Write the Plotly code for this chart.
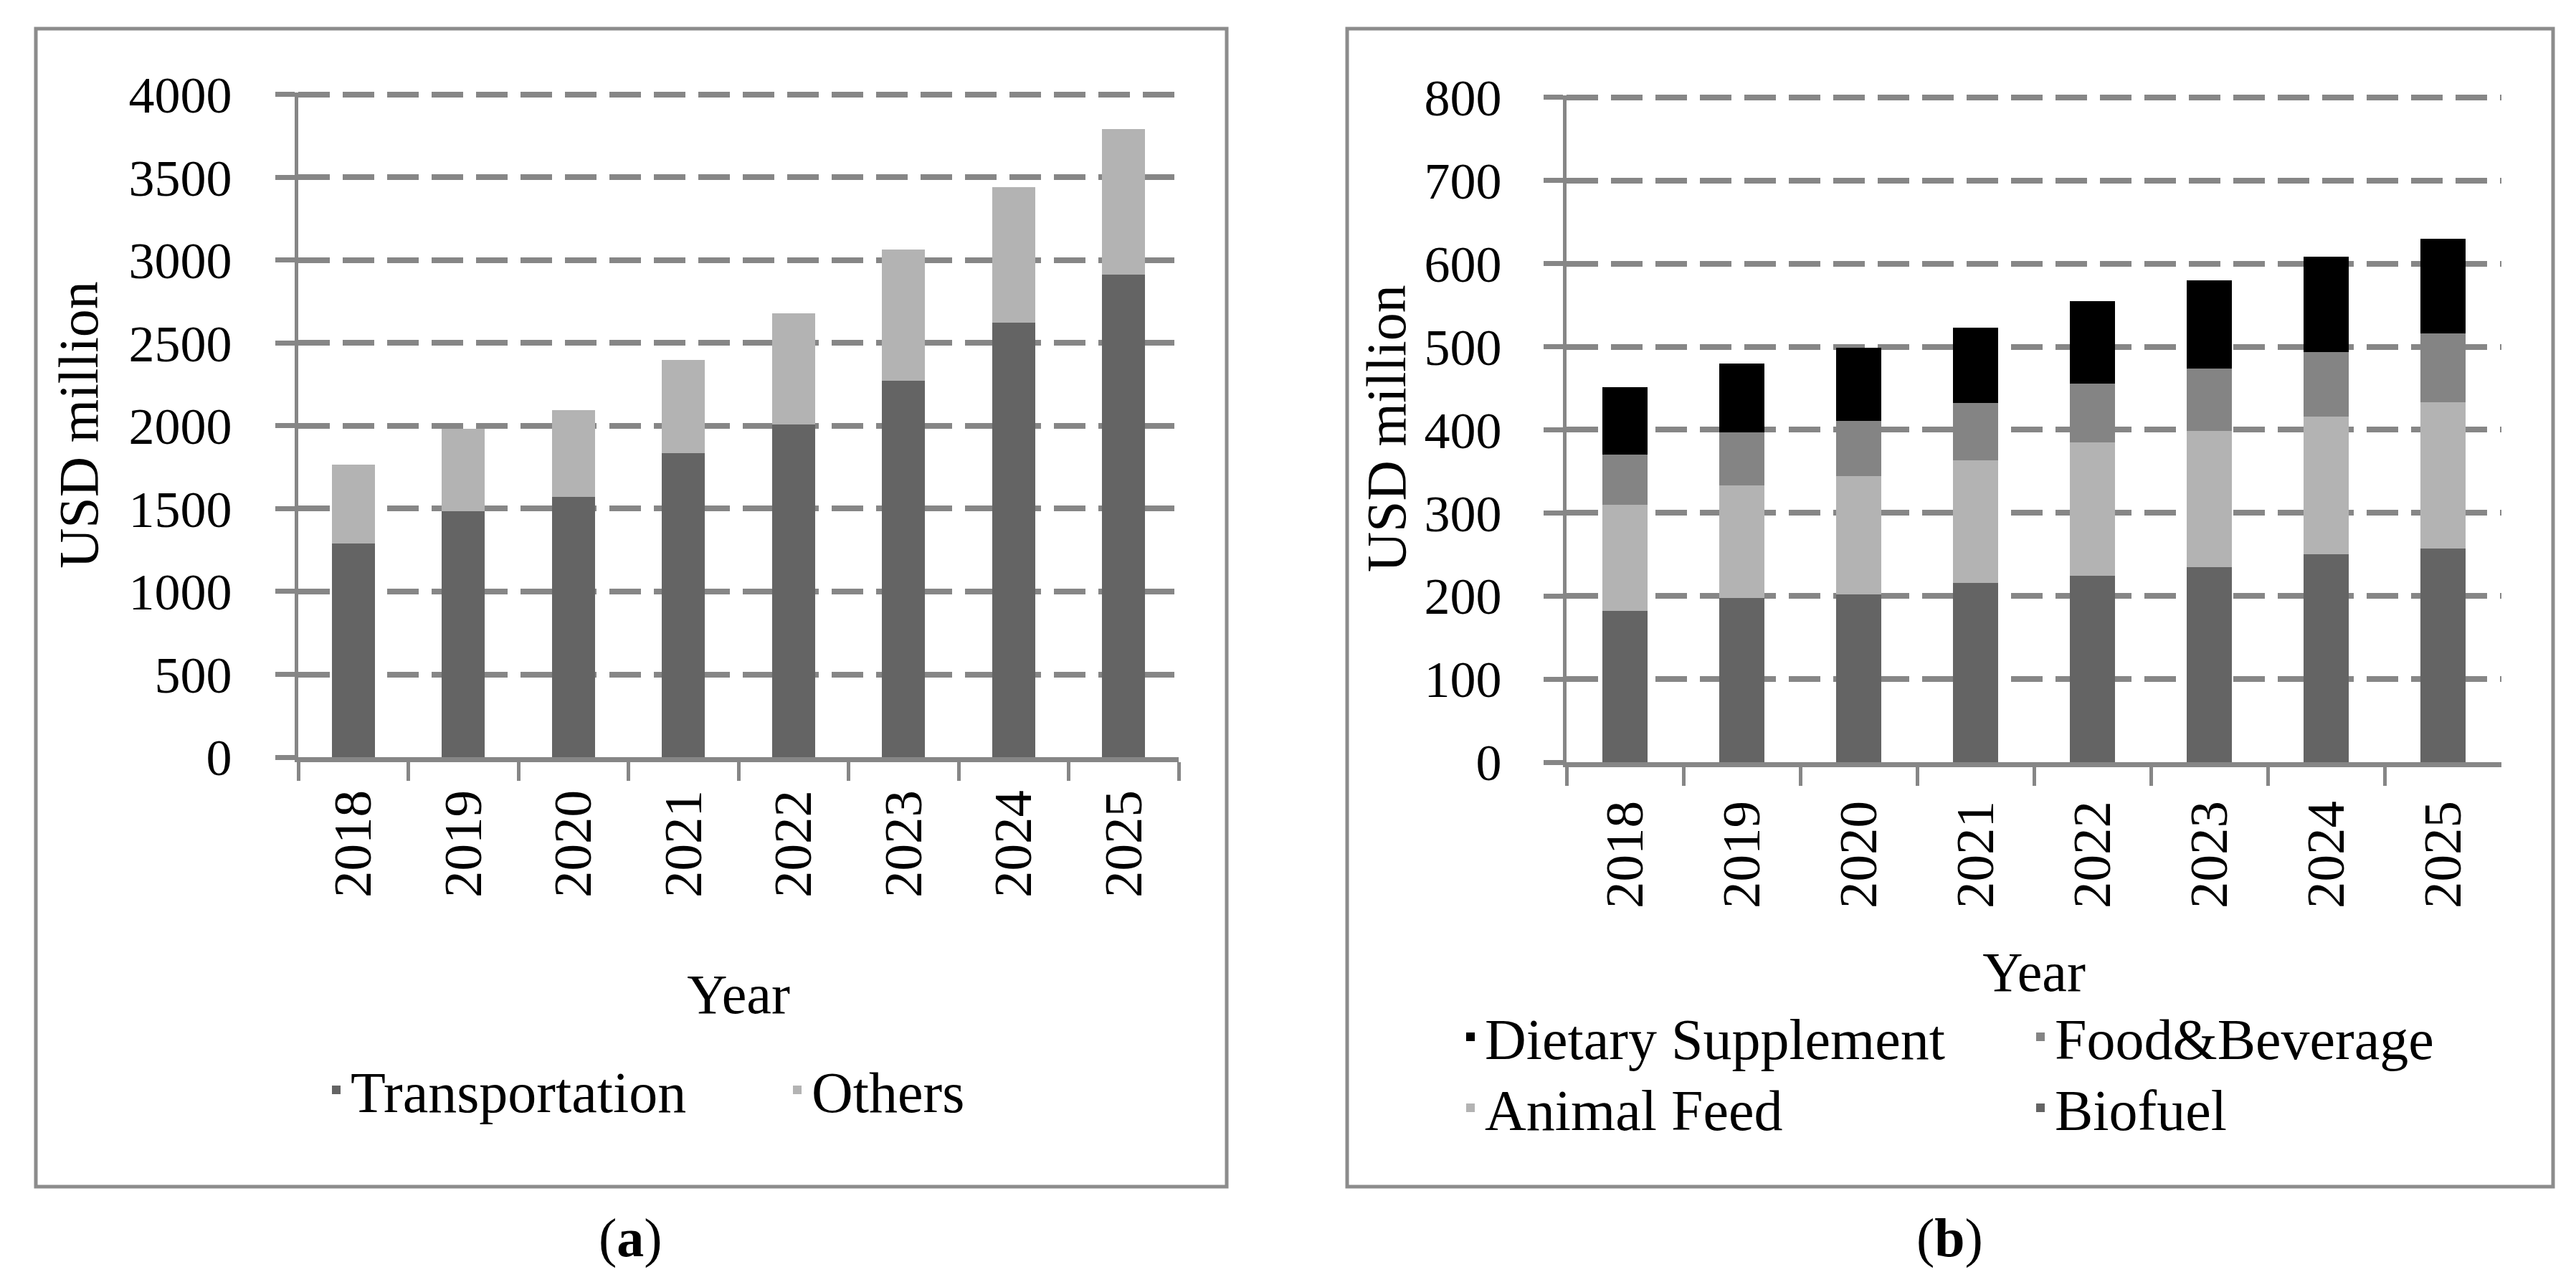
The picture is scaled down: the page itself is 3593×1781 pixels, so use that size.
import plotly.graph_objects as go

years = ["2018", "2019", "2020", "2021", "2022", "2023", "2024", "2025"]

# Panel (a)
transportation = [1292, 1483, 1571, 1836, 2009, 2274, 2623, 2912]
others = [474, 499, 526, 562, 669, 790, 818, 881]

# Panel (b)
biofuel = [182, 198, 202, 216, 224, 235, 250, 257]
animal_feed = [128, 135, 142, 147, 161, 164, 166, 176]
food_beverage = [60, 64, 67, 69, 71, 75, 78, 83]
dietary_supplement = [81, 83, 88, 91, 99, 106, 114, 114]

W, H = 3593, 1781
FONT = "Liberation Serif"
GRID = "#868686"
C_DARK = "#646464"
C_LIGHT = "#b3b3b3"
C_MID = "#848484"
C_BLACK = "#000000"


def px(v):
    return v / W


def py(v):
    return 1 - v / H


fig = go.Figure()

traces = [
    ("Transportation", transportation, C_DARK, "x", "y", "legend"),
    ("Others", others, C_LIGHT, "x", "y", "legend2"),
    ("Biofuel", biofuel, C_DARK, "x2", "y2", "legend6"),
    ("Animal Feed", animal_feed, C_LIGHT, "x2", "y2", "legend5"),
    ("Food&Beverage", food_beverage, C_MID, "x2", "y2", "legend4"),
    ("Dietary Supplement", dietary_supplement, C_BLACK, "x2", "y2", "legend3"),
]
for name, vals, color, xa, ya, lg in traces:
    fig.add_trace(go.Bar(x=years, y=vals, name=name,
                         marker=dict(color=color, line=dict(width=0)),
                         xaxis=xa, yaxis=ya, legend=lg))

ytickfont = dict(family=FONT, size=72, color="black")
xtickfont = dict(family=FONT, size=75, color="black")
titlefont = dict(family=FONT, size=78, color="black")
legfont = dict(family=FONT, size=80, color="black")


def xaxis_cfg(domain, anchor, standoff, title_standoff):
    return dict(
        domain=domain, anchor=anchor, type="category",
        showline=True, linecolor=GRID, linewidth=7,
        ticks="outside", tickson="boundaries", ticklen=26, tickwidth=5,
        tickcolor=GRID, tickangle=-90, tickfont=xtickfont,
        ticklabelstandoff=standoff,
        showgrid=False, zeroline=False,
        title=dict(text="Year", font=titlefont, standoff=title_standoff),
        automargin=False,
    )


def yaxis_cfg(domain, anchor, rng, dtick, standoff, title_standoff):
    return dict(
        domain=domain, anchor=anchor, range=rng, dtick=dtick, tick0=0,
        showline=True, linecolor=GRID, linewidth=5,
        ticks="outside", ticklen=27, tickwidth=7, tickcolor=GRID,
        tickfont=ytickfont, ticklabelstandoff=standoff,
        showgrid=True, gridcolor=GRID, gridwidth=8, griddash="44px,18px",
        zeroline=False,
        title=dict(text="USD million", font=titlefont, standoff=title_standoff),
        automargin=False,
    )


def leg(xpix, ypix):
    return dict(
        orientation="v", x=px(xpix), xanchor="left", y=py(ypix), yanchor="middle",
        font=legfont, bgcolor="rgba(0,0,0,0)", borderwidth=0,
        itemclick=False, itemdoubleclick=False,
    )


fig.update_layout(
    width=W, height=H,
    margin=dict(l=0, r=0, t=0, b=0),
    paper_bgcolor="white", plot_bgcolor="white",
    font=dict(family=FONT, color="black"),
    barmode="stack",
    showlegend=True,
    xaxis=xaxis_cfg([px(408), px(1636)], "y", 9, 110),
    yaxis=yaxis_cfg([py(1048), py(121.2)], "x", [0, 4012], 500, 46, 19),
    xaxis2=xaxis_cfg([px(2177), px(3481)], "y2", 17, 64),
    yaxis2=yaxis_cfg([py(1055), py(124.5)], "x2", [0, 803], 100, 44, 2),
    bargap=0.61,
    legend=leg(441, 1512),
    legend2=leg(1084, 1512),
    legend3=leg(2023, 1438),
    legend4=leg(2818, 1438),
    legend5=leg(2023, 1537),
    legend6=leg(2818, 1537),
    shapes=[
        dict(type="rect", xref="paper", yref="paper",
             x0=px(42), x1=px(1703), y0=py(1647), y1=py(32),
             line=dict(color="#8c8c8c", width=5), fillcolor="rgba(0,0,0,0)"),
        dict(type="rect", xref="paper", yref="paper",
             x0=px(1871), x1=px(3553), y0=py(1647), y1=py(32),
             line=dict(color="#8c8c8c", width=5), fillcolor="rgba(0,0,0,0)"),
    ],
    annotations=[
        dict(text="(<b>a</b>)", xref="paper", yref="paper", x=px(871), y=py(1718),
             xanchor="center", yanchor="middle", showarrow=False,
             font=dict(family=FONT, size=76, color="black")),
        dict(text="(<b>b</b>)", xref="paper", yref="paper", x=px(2711), y=py(1718),
             xanchor="center", yanchor="middle", showarrow=False,
             font=dict(family=FONT, size=76, color="black")),
    ],
)

fig.write_html("out.html")
